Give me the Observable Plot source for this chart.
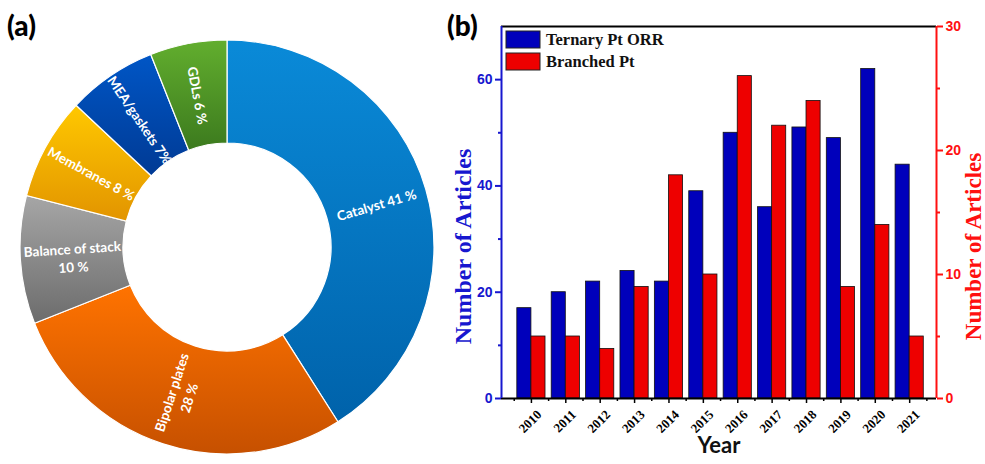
<!DOCTYPE html>
<html><head><meta charset="utf-8">
<script src="https://cdn.jsdelivr.net/npm/d3@7"></script>
<script src="https://cdn.jsdelivr.net/npm/@observablehq/plot@0.6"></script>
<style>
body{margin:0;background:#fff;}
#wrap{position:relative;width:985px;height:464px;overflow:hidden;background:#fff;}
#pa{position:absolute;left:0;top:0;}
#pb{position:absolute;left:440px;top:0;}
.plabel{position:absolute;font-family:Lato,"Liberation Sans",sans-serif;font-weight:900;font-size:28px;color:#000;line-height:1;}
</style></head>
<body><div id="wrap"><div id="pa"></div><div id="pb"></div>
<div class="plabel" style="left:7px;top:11px">(a)</div>
<div class="plabel" style="left:447px;top:11px">(b)</div></div>
<script>
// ---------- Panel (a) data ----------
const components = ["Catalyst", "Bipolar plates", "Balance of stack", "Membranes", "MEA/gaskets", "GDLs"];
const shares = [41, 28, 10, 8, 7, 6];
const sliceLabels = ["Catalyst 41 %", "Bipolar plates\n28 %", "Balance of stack\n10 %", "Membranes 8 %", "MEA/gaskets 7%", "GDLs 6 %"];
const colorTop = ["#0a8ad8", "#ff7300", "#a6a6a6", "#ffc800", "#0056c6", "#62ae2e"];
const colorBottom = ["#0062aa", "#c65000", "#6c6c6c", "#e29400", "#003a94", "#3c7a1e"];

// ---------- Panel (b) data ----------
const years = [2010, 2011, 2012, 2013, 2014, 2015, 2016, 2017, 2018, 2019, 2020, 2021];
const ternary = [17, 20, 22, 24, 22, 39, 50, 36, 51, 49, 62, 44];
const branched = [5, 5, 4, 9, 18, 10, 26, 22, 24, 9, 14, 5];
const leftTicks = [0, 20, 40, 60];
const leftMinor = [10, 30, 50];
const rightTicks = [0, 10, 20, 30];
const rightMinor = [5, 15, 25];
const seriesNames = ["Ternary Pt ORR", "Branched Pt"];

// ================= Panel (a): donut =================
const W_A = 450, H_A = 464, CX = 227, CY = 247, R_OUT = 207, R_IN = 104, R_LAB = 155;
const pie = d3.pie().sort(null).value(d => d.share)(components.map((c, i) => ({name: c, share: shares[i], i})));
const slices = pie.map(p => {
  const a = (p.startAngle + p.endAngle) / 2;
  let rot = a * 180 / Math.PI - 90;
  if (rot > 90) rot -= 180;
  return {...p, mid: a, lx: CX + R_LAB * Math.sin(a), ly: CY - R_LAB * Math.cos(a), rot, label: sliceLabels[p.data.i]};
});

const donutMark = (index, scales) => {
  const g = d3.create("svg:g");
  const defs = g.append("defs");
  slices.forEach((s, i) => {
    const lg = defs.append("linearGradient").attr("id", "grad" + i).attr("x1", 0).attr("y1", 0).attr("x2", 0).attr("y2", 1);
    lg.append("stop").attr("offset", "0%").attr("stop-color", colorTop[i]);
    lg.append("stop").attr("offset", "100%").attr("stop-color", colorBottom[i]);
  });
  const arc = d3.arc().innerRadius(R_IN).outerRadius(R_OUT);
  g.append("g").attr("transform", `translate(${scales.x(CX)},${scales.y(CY)})`)
    .selectAll("path").data(slices).join("path")
    .attr("d", d => arc(d))
    .attr("fill", (d, i) => `url(#grad${i})`)
    .attr("stroke", "#ffffff").attr("stroke-width", 1.2);
  return g.node();
};

const plotA = Plot.plot({
  width: W_A, height: H_A, margin: 0,
  style: {background: "transparent", overflow: "visible"},
  x: {domain: [0, W_A], range: [0, W_A], axis: null},
  y: {domain: [0, H_A], range: [0, H_A], axis: null},
  marks: [
    donutMark,
    Plot.text(slices, {x: "lx", y: "ly", text: "label", rotate: "rot", fill: "white",
      fontFamily: "Lato, 'Open Sans', sans-serif", fontWeight: "bold", fontSize: 13.5,
      textAnchor: "middle", lineAnchor: "middle", lineHeight: 1.35})
  ]
});
document.getElementById("pa").appendChild(plotA);

// ================= Panel (b): grouped bars, dual axis =================
const K = 70 / 30; // right axis (0-30) mapped onto left axis (0-70)
const bars = years.map((y, i) => ({year: y, ternary: ternary[i], branched: branched[i]}));
const X0 = 2009.13, X1 = 2021.78, BW = 0.41;
const BLUE = "#0000bb", RED = "#ee0000", AXBLUE = "#1717cf", AXRED = "#ff1010";
const halfTicks = years.map(y => y - 0.5).concat([years[years.length - 1] + 0.5]);
const SERIF = "'Liberation Serif', 'Times New Roman', serif";

const legendMark = (index, scales, values, dims) => {
  const g = d3.create("svg:g");
  const x0 = dims.marginLeft + 5, y0 = dims.marginTop + 5;
  [BLUE, RED].forEach((c, i) => {
    g.append("rect").attr("x", x0).attr("y", y0 + i * 22).attr("width", 34).attr("height", 17)
      .attr("fill", c).attr("stroke", "#222").attr("stroke-width", 1);
    g.append("text").attr("x", x0 + 40).attr("y", y0 + i * 22 + 8.5).attr("dy", "0.35em")
      .attr("text-anchor", "start")
      .attr("font-family", SERIF).attr("font-weight", "bold")
      .attr("font-size", 16.5).attr("fill", "#111").text(seriesNames[i]);
  });
  return g.node();
};

const axisFont = {fontFamily: "'Liberation Sans', Arial, sans-serif", fontWeight: "bold", fontSize: 14};
const plotB = Plot.plot({
  width: 545, height: 464,
  marginLeft: 61, marginRight: 49, marginTop: 26, marginBottom: 66,
  style: {background: "transparent", overflow: "visible"},
  x: {type: "linear", domain: [X0, X1], axis: null},
  y: {domain: [0, 70], axis: null},
  marks: [
    Plot.rectY(bars, {x1: d => d.year - BW, x2: d => d.year, y1: 0, y2: "ternary", fill: BLUE, stroke: "#111", strokeWidth: 0.8}),
    Plot.rectY(bars, {x1: d => d.year, x2: d => d.year + BW, y1: 0, y2: d => d.branched * K, fill: RED, stroke: "#111", strokeWidth: 0.8}),
    // frame lines
    Plot.ruleY([70], {stroke: "#000", strokeWidth: 2}),
    Plot.ruleY([0], {stroke: "#000", strokeWidth: 2}),
    Plot.ruleX([X0], {stroke: AXBLUE, strokeWidth: 2}),
    Plot.ruleX([X1], {stroke: AXRED, strokeWidth: 2}),
    // left axis
    Plot.axisY({anchor: "left", ticks: leftTicks, tickSize: 6, tickPadding: 3, tickFormat: "d", color: AXBLUE, strokeWidth: 2, label: null, ...axisFont}),
    Plot.axisY({anchor: "left", ticks: leftMinor, tickSize: 3, tickFormat: () => "", color: AXBLUE, strokeWidth: 2, label: null}),
    // right axis
    Plot.axisY({anchor: "right", ticks: rightTicks.map(v => v * K), tickSize: 6, tickPadding: 3, tickFormat: v => String(Math.round(v / K)), color: AXRED, strokeWidth: 2, label: null, ...axisFont}),
    Plot.axisY({anchor: "right", ticks: rightMinor.map(v => v * K), tickSize: 3, tickFormat: () => "", color: AXRED, strokeWidth: 2, label: null}),
    // bottom axis ticks and rotated year labels
    Plot.axisX({anchor: "bottom", ticks: halfTicks, tickSize: 3, tickFormat: () => "", color: "#000", strokeWidth: 1.5, label: null}),
    Plot.axisX({anchor: "bottom", ticks: years, tickSize: 5, tickFormat: () => "", color: "#000", strokeWidth: 1.5, label: null}),
    Plot.text(years, {x: d => d, frameAnchor: "bottom", text: d => String(d), rotate: -45,
      textAnchor: "end", lineAnchor: "middle", dx: 8, dy: 14,
      fill: "#000", fontFamily: SERIF, fontWeight: "bold", fontSize: 13}),
    // axis titles
    Plot.text(["Year"], {frameAnchor: "bottom", dy: 54, textAnchor: "middle", fill: "#111", fontFamily: "Lato, 'Liberation Sans', sans-serif", fontWeight: "bold", fontSize: 22}),
    Plot.text(["Number of Articles"], {frameAnchor: "left", dx: -38, dy: 34, rotate: -90, textAnchor: "middle", lineAnchor: "middle", fill: AXBLUE, fontFamily: SERIF, fontWeight: "bold", fontSize: 24}),
    Plot.text(["Number of Articles"], {frameAnchor: "right", dx: 37, dy: 34, rotate: -90, textAnchor: "middle", lineAnchor: "middle", fill: AXRED, fontFamily: SERIF, fontWeight: "bold", fontSize: 23}),
    legendMark
  ]
});
document.getElementById("pb").appendChild(plotB);
</script>
</body></html>
